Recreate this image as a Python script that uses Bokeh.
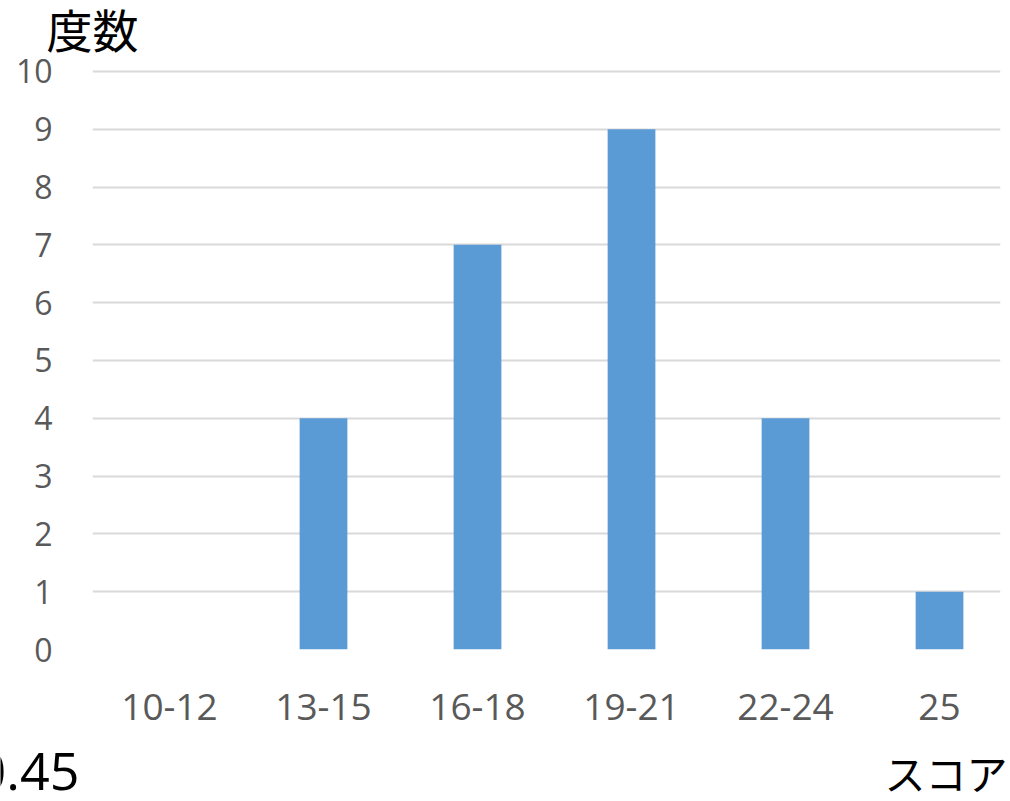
from bokeh.plotting import figure
from bokeh.models import Range1d, FixedTicker, Label, ColumnDataSource
from bokeh.layouts import column
from bokeh.embed import file_html
from bokeh.resources import INLINE

categories = ["10-12", "13-15", "16-18", "19-21", "22-24", "25"]
counts = [0, 4, 7, 9, 4, 1]
y_ticks = [0, 1, 2, 3, 4, 5, 6, 7, 8, 9, 10]
y_title = "度数"
x_title = "スコア"
corner_note = "0.45"

W = 1010
TOP_H = 55
BOT_H = 56
MAIN_H = 801 - TOP_H - BOT_H


def strip(h, y0):
    f = figure(width=W, height=h, output_backend="svg", toolbar_location=None,
               x_range=Range1d(0, W), y_range=Range1d(y0 + h, y0),
               x_axis_location=None, y_axis_location=None,
               min_border_left=0, min_border_right=0,
               min_border_top=0, min_border_bottom=0)
    f.grid.visible = False
    f.outline_line_color = None
    f.background_fill_color = "white"
    f.border_fill_color = "white"
    return f


top = strip(TOP_H, 0)
top.add_layout(Label(x=46, y=27, text=y_title, text_font="Noto Sans CJK JP",
                     text_font_size="46px", text_color="black",
                     text_baseline="middle", text_align="left"))

xs = list(range(len(categories)))
src = ColumnDataSource(dict(x=xs, top=counts))

p = figure(width=W, height=MAIN_H, output_backend="svg", toolbar_location=None,
           x_range=Range1d(-0.5, 5.396), y_range=Range1d(0, 10.05),
           min_border_left=92, min_border_right=10,
           min_border_top=68 - TOP_H, min_border_bottom=(801 - BOT_H) - 649)
p.outline_line_color = None
p.background_fill_color = "white"
p.border_fill_color = "white"

p.vbar(x="x", top="top", width=0.31, bottom=0, source=src,
       fill_color="#5B9BD5", line_color=None)

p.xaxis.ticker = FixedTicker(ticks=xs)
p.xaxis.major_label_overrides = {i: c for i, c in enumerate(categories)}
p.yaxis.ticker = FixedTicker(ticks=y_ticks)
for ax in (p.xaxis, p.yaxis):
    ax.axis_line_color = None
    ax.major_tick_line_color = None
    ax.minor_tick_line_color = None
    ax.major_label_text_color = "#595959"
    ax.major_label_text_font = "Open Sans"
p.xaxis.major_label_text_font_size = "37px"
p.yaxis.major_label_text_font_size = "32px"
p.xaxis.major_label_standoff = 38
p.yaxis.major_label_standoff = 34

p.xgrid.grid_line_color = None
p.ygrid.ticker = FixedTicker(ticks=y_ticks)
p.ygrid.grid_line_color = "#D9D9D9"
p.ygrid.grid_line_width = 2

bot = strip(BOT_H, 801 - BOT_H)
bot.add_layout(Label(x=1007, y=771, text=x_title, text_font="Noto Sans CJK JP",
                     text_font_size="41px", text_color="black",
                     text_baseline="middle", text_align="right"))
bot.add_layout(Label(x=-24, y=771, text=corner_note, text_font="Open Sans",
                     text_font_size="52px", text_color="black",
                     text_baseline="alphabetic", text_align="left"))

for fig in (top, p, bot):
    try:
        fig.frame_align = False
    except Exception:
        pass

layout = column(top, p, bot, spacing=0)
open("out.html", "w").write(file_html(layout, INLINE))
